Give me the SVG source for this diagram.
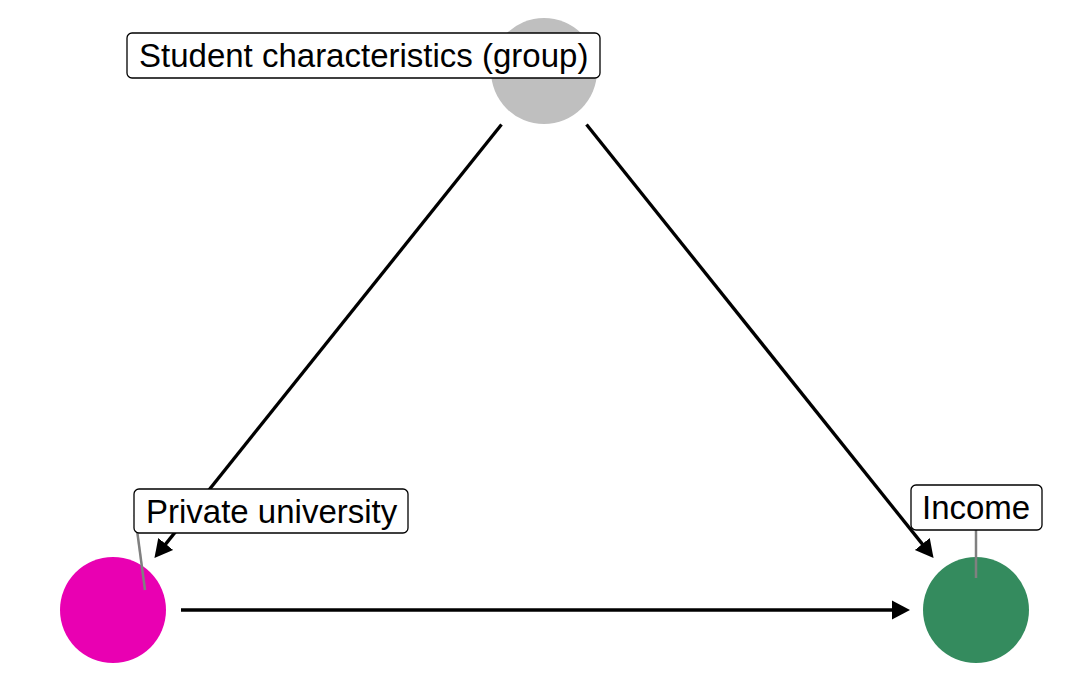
<svg xmlns="http://www.w3.org/2000/svg" width="1080" height="691" viewBox="0 0 1080 691">
<defs>
<style>
.edge{stroke:#000;stroke-width:3.3;fill:none;marker-end:url(#ah)}
.lead{stroke:#808080;stroke-width:2.5}
.lbl{fill:#fff;stroke:#000;stroke-width:1.3}
.txt{font-family:"Liberation Sans",Arial,sans-serif;font-size:33px;fill:#000}
</style>
<marker id="ah" markerUnits="userSpaceOnUse" markerWidth="22" markerHeight="22" viewBox="0 -11 22 22" refX="12" refY="0" orient="auto">
<path d="M0,-9.5 L18,0 L0,9.5 Z" fill="#000"/>
</marker>
</defs>
<rect width="1080" height="691" fill="#fff"/>
<g id="node-student">
<circle cx="544" cy="71" r="53" fill="#BFBFBF"/>
</g>
<g id="node-private">
<circle cx="113" cy="610" r="53" fill="#E900B2"/>
</g>
<g id="node-income">
<circle cx="976" cy="610" r="53" fill="#348B5E"/>
</g>
<g id="connectors">
<line class="edge" x1="501.5" y1="124.5" x2="158.2" y2="553.4"/>
<line class="edge" x1="586.5" y1="124.5" x2="929.8" y2="553.4"/>
<line class="edge" x1="181" y1="610" x2="904" y2="610"/>
</g>
<g id="label-student">
<rect class="lbl" x="127" y="33" width="473" height="45" rx="5"/>
<text class="txt" x="139" y="67">Student characteristics (group)</text>
</g>
<g id="label-private">
<line class="lead" x1="135" y1="515" x2="145" y2="590"/>
<rect class="lbl" x="134" y="489" width="274" height="44" rx="5"/>
<text class="txt" x="146" y="523">Private university</text>
</g>
<g id="label-income">
<line class="lead" x1="976" y1="530" x2="976" y2="578"/>
<rect class="lbl" x="911" y="485" width="131" height="45" rx="5"/>
<text class="txt" x="922" y="519">Income</text>
</g>
</svg>
